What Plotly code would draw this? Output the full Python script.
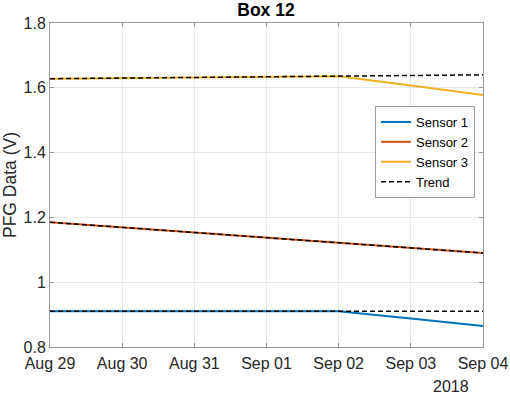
import plotly.graph_objects as go

dates = ["2018-08-29", "2018-08-30", "2018-08-31", "2018-09-01",
         "2018-09-02", "2018-09-03", "2018-09-04"]
tick_labels = ["Aug 29", "Aug 30", "Aug 31", "Sep 01", "Sep 02", "Sep 03", "Sep 04"]

sensor1 = [0.910, 0.910, 0.910, 0.910, 0.910, 0.888, 0.865]
sensor2 = [1.185, 1.169, 1.153, 1.137, 1.121, 1.106, 1.090]
sensor3 = [1.628, 1.630, 1.632, 1.634, 1.636, 1.607, 1.578]

trend1 = [0.910, 0.910, 0.910, 0.910, 0.910, 0.910, 0.910]
trend2 = [1.185, 1.169, 1.153, 1.137, 1.121, 1.106, 1.090]
trend3 = [1.628, 1.630, 1.632, 1.634, 1.636, 1.638, 1.640]

y_ticks = [0.8, 1.0, 1.2, 1.4, 1.6, 1.8]
y_tick_labels = ["0.8", "1", "1.2", "1.4", "1.6", "1.8"]

colors = ["#0072BD", "#D95319", "#EDB120"]
font = "Liberation Sans, Arial, sans-serif"

fig = go.Figure()
for name, ys, c in [("Sensor 1", sensor1, colors[0]),
                    ("Sensor 2", sensor2, colors[1]),
                    ("Sensor 3", sensor3, colors[2])]:
    fig.add_trace(go.Scatter(x=dates, y=ys, mode="lines", name=name,
                             line=dict(color=c, width=2)))

for i, ys in enumerate([trend1, trend2, trend3]):
    fig.add_trace(go.Scatter(x=dates, y=ys, mode="lines", name="Trend",
                             showlegend=(i == 0),
                             line=dict(color="black", width=1.5, dash="5px,3px")))

axis_common = dict(
    showline=True, linecolor="#999999", linewidth=1, mirror="ticks",
    ticks="inside", ticklen=4, tickcolor="#999999", automargin=False,
    showgrid=True, gridcolor="#e8e8e8", gridwidth=1, zeroline=False,
    tickfont=dict(family=font, size=16, color="#262626"),
)

fig.update_layout(
    width=510, height=394,
    margin=dict(l=50, r=27, t=23, b=47),
    paper_bgcolor="white", plot_bgcolor="white",
    title=dict(text="<b>Box 12</b>", x=266 / 510, xanchor="center",
               y=1 - 9.5 / 394, yanchor="middle",
               font=dict(family=font, size=17.5, color="black")),
    xaxis=dict(range=["2018-08-29", "2018-09-04"], tickvals=dates,
               ticktext=tick_labels, ticklabelstandoff=2, **axis_common),
    yaxis=dict(range=[0.8, 1.8], tickvals=y_ticks, ticktext=y_tick_labels,
               title=dict(text="PFG Data (V)", standoff=4,
                          font=dict(family=font, size=17.5, color="#262626")),
               **axis_common),
    legend=dict(x=(375 - 50) / 433, y=(347 - 106) / 324, xanchor="left", yanchor="top",
                bgcolor="white", bordercolor="#999999", borderwidth=1,
                font=dict(family=font, size=13, color="black"),
                tracegroupgap=0, itemwidth=30),
    annotations=[dict(text="2018", xref="paper", yref="paper",
                      x=(451 - 50) / 433, y=-(386 - 347) / 324,
                      xanchor="center", yanchor="middle", showarrow=False,
                      font=dict(family=font, size=16, color="#262626"))],
)

fig.write_html("out.html",
               config={"displayModeBar": False},
               post_script="document.body.style.margin='0';")
